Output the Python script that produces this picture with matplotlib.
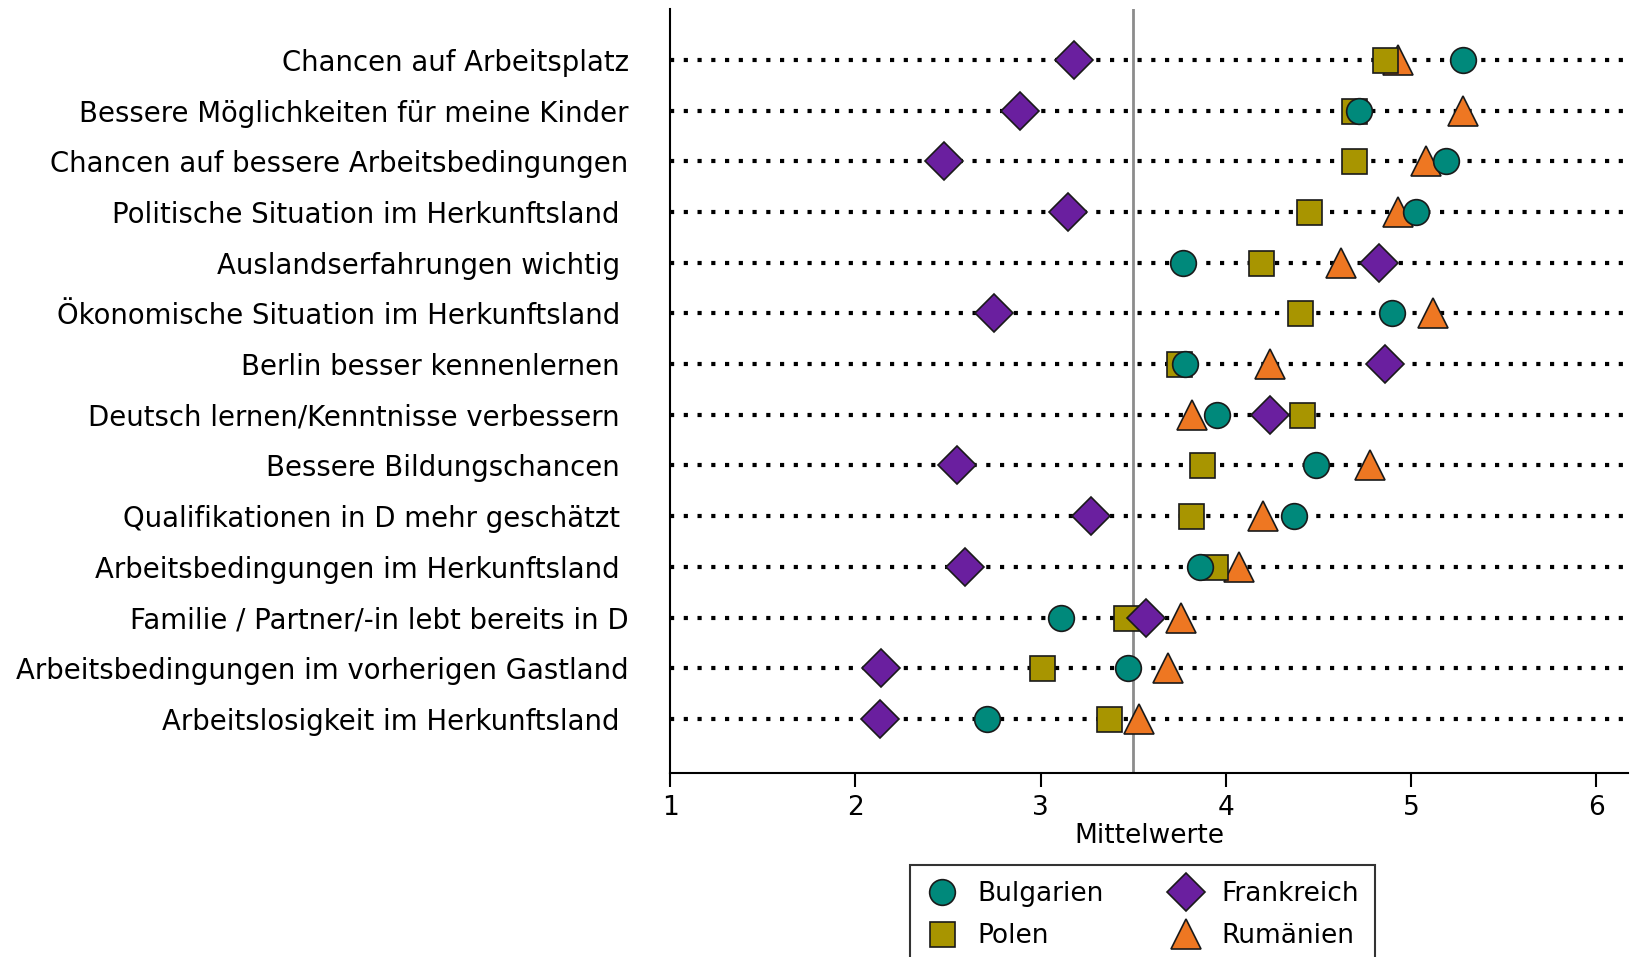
import matplotlib
matplotlib.use("Agg")
import matplotlib.pyplot as plt

plt.rcParams['font.family'] = ['DejaVu Sans']

# items, top to bottom
items = [
    "Chancen auf Arbeitsplatz",
    "Bessere Möglichkeiten für meine Kinder",
    "Chancen auf bessere Arbeitsbedingungen",
    "Politische Situation im Herkunftsland ",
    "Auslandserfahrungen wichtig ",
    "Ökonomische Situation im Herkunftsland ",
    "Berlin besser kennenlernen ",
    "Deutsch lernen/Kenntnisse verbessern ",
    "Bessere Bildungschancen ",
    "Qualifikationen in D mehr geschätzt ",
    "Arbeitsbedingungen im Herkunftsland ",
    "Familie / Partner/-in lebt bereits in D",
    "Arbeitsbedingungen im vorherigen Gastland",
    "Arbeitslosigkeit im Herkunftsland ",
]

# mean values per country
bulgarien = [5.28, 4.72, 5.19, 5.03, 3.77, 4.90, 3.78, 3.95, 4.49, 4.37, 3.86, 3.11, 3.47, 2.71]
polen = [4.86, 4.69, 4.69, 4.45, 4.19, 4.40, 3.75, 4.41, 3.87, 3.81, 3.94, 3.46, 3.01, 3.37]
frankreich = [3.18, 2.89, 2.48, 3.15, 4.83, 2.75, 4.86, 4.24, 2.55, 3.27, 2.59, 3.57, 2.14, 2.13]
rumaenien = [4.93, 5.28, 5.08, 4.93, 4.62, 5.12, 4.24, 3.82, 4.78, 4.20, 4.07, 3.76, 3.69, 3.53]

ref_value = 3.5
xticks = [1, 2, 3, 4, 5, 6]

fig = plt.figure(figsize=(16.39, 9.57), dpi=100)
ax = fig.add_axes([0.409, 0.192, 0.584, 0.799])

ypos = list(range(len(items)))

# dotted guide lines
ax.hlines(ypos, 1, 6.17, colors='black', linewidth=3,
          linestyles=(0, (1, 2.3)), zorder=1)
ax.axvline(ref_value, color='#8c8c8c', linewidth=2, zorder=2)

# drawing order controls the overlaps
ax.plot(rumaenien, ypos, linestyle='none', marker='^', markersize=21,
        markerfacecolor='#ee7722', markeredgecolor='#1a1a1a', markeredgewidth=1.2,
        zorder=3, label='Rumänien')
ax.plot(polen, ypos, linestyle='none', marker='s', markersize=18,
        markerfacecolor='#a89500', markeredgecolor='#1a1a1a', markeredgewidth=1.2,
        zorder=4, label='Polen')
ax.plot(bulgarien, ypos, linestyle='none', marker='o', markersize=18.5,
        markerfacecolor='#00897b', markeredgecolor='#1a1a1a', markeredgewidth=1.2,
        zorder=5, label='Bulgarien')
ax.plot(frankreich, ypos, linestyle='none', marker='D', markersize=19,
        markerfacecolor='#6a1f9f', markeredgecolor='#1a1a1a', markeredgewidth=1.2,
        zorder=6, label='Frankreich')

ax.set_xlim(1, 6.17)
ax.set_ylim(len(items) - 1 + 1.07, -1.01)
ax.set_xticks(xticks)
ax.set_xticklabels([str(t) for t in xticks], fontsize=19)
ax.set_yticks(ypos)
ax.set_yticklabels(items, fontsize=19.8)
ax.tick_params(axis='y', length=0, pad=30)
ax.tick_params(axis='x', length=10, width=1.5, pad=6)
ax.set_xlabel('Mittelwerte', fontsize=19, labelpad=1)

for s in ['top', 'right']:
    ax.spines[s].set_visible(False)
for s in ['left', 'bottom']:
    ax.spines[s].set_linewidth(1.5)
    ax.spines[s].set_color('black')

h, l = ax.get_legend_handles_labels()
order = [2, 1, 3, 0]
leg = fig.legend([h[i] for i in order], [l[i] for i in order], ncol=2,
                 loc='upper left', bbox_to_anchor=(0.5555, 0.096),
                 borderaxespad=0, fontsize=19, frameon=True, fancybox=False,
                 edgecolor='black', handletextpad=0.75, columnspacing=2.5,
                 borderpad=0.6, labelspacing=0.6, handlelength=1.2)
leg.get_frame().set_linewidth(1.5)

fig.savefig('out.png', dpi=100)
